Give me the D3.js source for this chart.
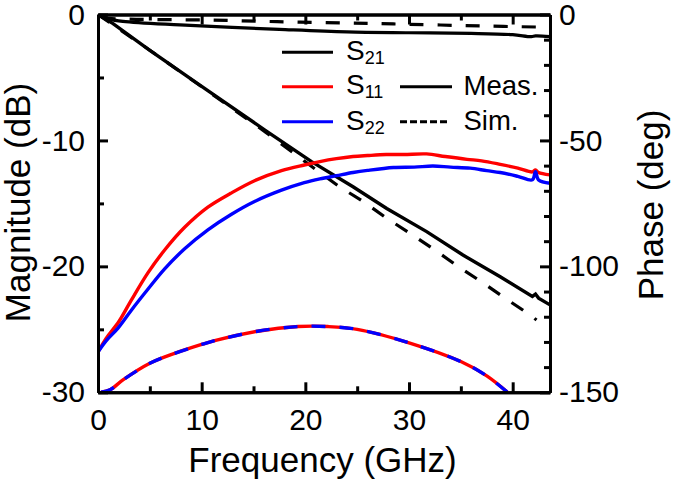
<!DOCTYPE html>
<html><head><meta charset="utf-8">
<script src="https://cdn.jsdelivr.net/npm/d3@7"></script>
<style>html,body{margin:0;padding:0;background:#fff}svg{display:block}text{font-family:"Liberation Sans",Arial,sans-serif;fill:#000}</style>
</head><body><svg id="c" width="674" height="486"></svg>
<script>
const xTicksMajor=[0,10,20,30,40];
const xTicksMinor=[5,15,25,35];
const magMajor=[0,-10,-20,-30];
const magMinor=[-5,-15,-25];
const phaseMajor=[0,-50,-100,-150];
const phaseMinor=[-10,-20,-30,-40,-60,-70,-80,-90,-110,-120,-130,-140];

const s21MeasF=[0,1,2.4,7.9,17.5,24,30,36,40,41.8,42.2,43.6];
const s21MeasMag=[-0.05,-0.35,-0.55,-0.83,-1.18,-1.38,-1.45,-1.5,-1.6,-1.76,-1.7,-1.76];
const s21SimF=[0,1,3.7,10.5,17.3,24,28.5,37,42.7];
const s21SimMag=[-0.1,-0.3,-0.38,-0.44,-0.57,-0.68,-0.75,-0.91,-1.0];
const phaseMeasF=[0,1.45,5,10,16.1,20.6,24.6,27.85,31.7,35.2,38.8,41.9,42.2,42.5,43.6];
const phaseMeas=[0,-3.6,-14.2,-28.5,-45.9,-58.4,-68.4,-77,-86.2,-95.5,-104.1,-111.9,-111,-112.6,-115.3];
const phaseSimF=[0,5,10,16.1,20,23.3,25.6,27.85,30.26,32.5,34.75,37.2,39.4,41.7,42.3];
const phaseSim=[0,-14.2,-28.7,-46.5,-58.5,-68.4,-74.3,-80.9,-87.3,-93.5,-100.1,-106.7,-113,-119.3,-121.3];
const s11MeasF=[0,0.8,2,3.2,4.83,6.43,8.36,10.6,12.8,15.1,17.7,19.9,21.4,23,24.6,26,27.8,29.5,31.7,33.5,35.6,37,38.8,40.5,41.9,42.2,42.5,43.6];
const s11Meas=[-26.8,-25.7,-24.4,-22.7,-20.5,-18.7,-16.9,-15.3,-14.2,-13.2,-12.4,-11.95,-11.68,-11.45,-11.28,-11.2,-11.12,-11.12,-11.07,-11.28,-11.5,-11.62,-11.9,-12.2,-12.5,-12.35,-12.55,-12.74];
const s22MeasF=[0,0.8,1.93,3.2,4.83,6.43,8.36,10.6,12.8,15.1,17.7,19.9,21.4,23,24.6,26,28.5,30.5,32.3,34,35.9,37.5,38.8,40.5,41.9,42.2,42.5,43.6];
const s22Meas=[-26.8,-25.9,-24.9,-23.5,-21.8,-20.2,-18.6,-17.1,-15.9,-14.85,-13.95,-13.35,-13.05,-12.8,-12.55,-12.38,-12.15,-12.12,-12.03,-12.12,-12.2,-12.4,-12.55,-12.85,-13.13,-12.48,-13.15,-13.4];
const sSimF=[0.3,1.16,2.44,5,7.25,10,11.25,15.4,19.3,22.2,25,30,35,37.5,39.5];
const sSim=[-30,-29.8,-29,-27.7,-26.95,-26.2,-25.9,-25.15,-24.78,-24.78,-25,-26.07,-27.56,-28.7,-30];

const svg=d3.select("#c");
const L=98,R=550,T=14.5,B=392.3;
const x=d3.scaleLinear().domain([0,43.6]).range([L,R]);
const yM=d3.scaleLinear().domain([-30,0]).range([B,T]);
const yP=d3.scaleLinear().domain([-150,0]).range([B,T]);
const zip=(a,b)=>a.map((v,i)=>[v,b[i]]);
const lineM=d3.line().x(d=>x(d[0])).y(d=>yM(d[1])).curve(d3.curveCatmullRom.alpha(0.5));
const lineP=d3.line().x(d=>x(d[0])).y(d=>yP(d[1]));
svg.append("clipPath").attr("id","plot").append("rect").attr("x",L).attr("y",T).attr("width",R-L).attr("height",B-T);
const draw=(g,d,c,dash,w,off)=>svg.append("path").attr("d",g(d)).attr("fill","none").attr("stroke",c).attr("stroke-width",w||3).attr("stroke-dasharray",dash||null).attr("stroke-dashoffset",off||0).attr("clip-path","url(#plot)");

draw(lineM,zip(s21SimF,s21SimMag),"#000","14 14",3.2,-4);
draw(lineP,zip(phaseSimF,phaseSim),"#000","14 14",3.2);
draw(lineM,zip(s21MeasF,s21MeasMag),"#000",null,3.2);
draw(lineP,zip(phaseMeasF,phaseMeas),"#000",null,3.4);
draw(lineM,zip(s11MeasF,s11Meas),"#f00",null,3.4);
draw(lineM,zip(s22MeasF,s22Meas),"#00f",null,3.4);
draw(lineM,zip(sSimF,sSim),"#f00",null,3.4);
draw(lineM,zip(sSimF,sSim),"#00f","14 14",3.4);

function ax(gen,scale,major,minor,tx,ty,labels,size,pad){
  const sets=[[minor,6,false],[major,10,labels]];
  sets.forEach(([vals,len,lab])=>{
    const g=svg.append("g").attr("transform",`translate(${tx},${ty})`)
      .call(gen(scale).tickValues(vals).tickSizeInner(-len).tickSizeOuter(0).tickPadding(pad||0).tickFormat(lab?(d=>String(d)):""));
    g.selectAll("path,line").attr("stroke","#000").attr("stroke-width",3);
    g.selectAll("text").attr("font-size",size).attr("fill","#000").style("font-family",'"Liberation Sans",Arial,sans-serif');
  });
}
ax(d3.axisBottom,x,xTicksMajor,xTicksMinor,0,B,true,30,16);
ax(d3.axisTop,x,xTicksMajor,xTicksMinor,0,T,false,30,0);
ax(d3.axisLeft,yM,magMajor,magMinor,L,0,true,30,13);
ax(d3.axisRight,yP,phaseMajor,phaseMinor,R,0,true,30,9);

const lab=(t,xx,yy,s,rot)=>{const e=svg.append("text").attr("font-size",s).attr("text-anchor","middle").text(t);
  e.attr("transform",rot?`translate(${xx},${yy}) rotate(-90)`:`translate(${xx},${yy})`);};
lab("Frequency (GHz)",322.5,472,35);
lab("Magnitude (dB)",29.5,202.5,35,true);
lab("Phase (deg)",663,205,35,true);

const legLines=[[282,333,52.3,"#000",null],[282,333,86.7,"#f00",null],[282,333,121.7,"#00f",null],[400,452,86.7,"#000",null],[400,448,121.7,"#000","7 3"]];
legLines.forEach(l=>svg.append("line").attr("x1",l[0]).attr("x2",l[1]).attr("y1",l[2]).attr("y2",l[2]).attr("stroke",l[3]).attr("stroke-width",3).attr("stroke-dasharray",l[4]));
[["21",60],["11",94.3],["22",130]].forEach(([s,yy])=>{
  const t=svg.append("text").attr("x",346).attr("y",yy).attr("font-size",28).text("S");
  t.append("tspan").attr("font-size",18).attr("dy",4).text(s);
});
svg.append("text").attr("x",463.5).attr("y",95).attr("font-size",27.5).text("Meas.");
svg.append("text").attr("x",463.5).attr("y",130).attr("font-size",27.5).text("Sim.");
</script></body></html>
